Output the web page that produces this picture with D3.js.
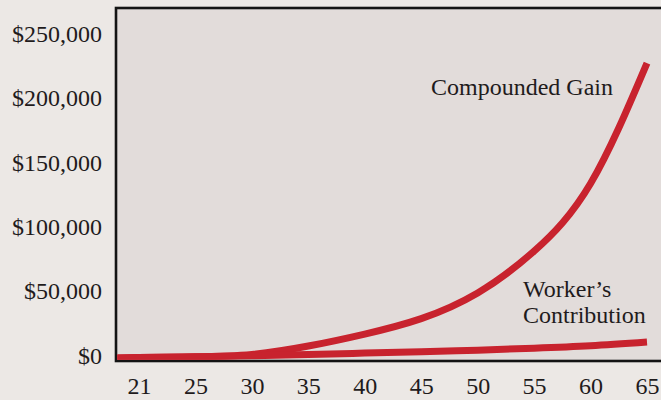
<!DOCTYPE html>
<html>
<head>
<meta charset="utf-8">
<script src="https://cdn.jsdelivr.net/npm/d3@7/dist/d3.min.js"></script>
<style>
  html, body { margin: 0; padding: 0; background: #ece8e5; }
  svg { display: block; }
  text { font-family: "Liberation Serif", "Times New Roman", serif; fill: #1f1b1c; }
</style>
</head>
<body>
<svg id="chart" width="661" height="400"></svg>
<script>
// Ages shown along the bottom axis (evenly spaced labels)
const ageTicks = [21, 25, 30, 35, 40, 45, 50, 55, 60, 65];
// Dollar ticks on the left axis
const valueTicks = [0, 50000, 100000, 150000, 200000, 250000];

// Ages at which the balances are sampled
const ages = [19, 21, 25, 30, 35, 40, 45, 50, 55, 60, 65];
// Growth from compounding over a working life
const compoundedGain = [0, 300, 900, 2800, 9300, 18600, 30600, 50500, 83000, 135500, 229000];
// What the worker paid in
const workerContribution = [0, 300, 900, 1700, 2700, 3800, 4900, 6100, 7600, 9500, 12400];

const plot = { left: 116, top: 8, right: 680, bottom: 361 };

const svg = d3.select("#chart");

// Tick labels sit at even spacing along the axis
const xPoint = d3.scalePoint()
  .domain(ageTicks.map(String))
  .range([139, 647]);

// Map an age onto the axis, piecewise between the labelled ticks
const xAge = d3.scaleLinear()
  .domain(ageTicks)
  .range(ageTicks.map(a => xPoint(String(a))));

const y = d3.scaleLinear()
  .domain([0, 250000])
  .range([358, 36]);

// Plot panel
svg.append("rect")
  .attr("x", plot.left)
  .attr("y", plot.top)
  .attr("width", plot.right - plot.left)
  .attr("height", plot.bottom - plot.top)
  .attr("fill", "#e2dcda")
  .attr("stroke", "#141414")
  .attr("stroke-width", 2.6);

svg.append("clipPath").attr("id", "plotClip")
  .append("rect")
  .attr("x", plot.left + 1.3)
  .attr("y", plot.top + 1.3)
  .attr("width", plot.right - plot.left)
  .attr("height", plot.bottom - plot.top - 2.6);

const line = d3.line()
  .x(d => xAge(d[0]))
  .y(d => y(d[1]))
  .curve(d3.curveNatural);

const lines = svg.append("g").attr("clip-path", "url(#plotClip)");

[compoundedGain, workerContribution].forEach(series => {
  lines.append("path")
    .datum(ages.map((a, i) => [a, series[i]]))
    .attr("d", line)
    .attr("fill", "none")
    .attr("stroke", "#c8232e")
    .attr("stroke-width", 7)
    .attr("stroke-linecap", "butt");
});

// Left axis labels
const yAxis = d3.axisLeft(y)
  .tickValues(valueTicks)
  .tickSize(0)
  .tickPadding(0)
  .tickFormat(d => "$" + d3.format(",")(d));

const gy = svg.append("g")
  .attr("transform", "translate(102,0)")
  .call(yAxis);
gy.select(".domain").remove();
gy.selectAll("text")
  .attr("dy", "0.22em")
  .style("font-size", "24px")
  .style("font-family", "'Liberation Serif', 'Times New Roman', serif")
  .attr("fill", "#1f1b1c");

// Bottom axis labels
const xAxis = d3.axisBottom(xPoint)
  .tickSize(0)
  .tickPadding(0);

const gx = svg.append("g")
  .attr("transform", "translate(0,376)")
  .call(xAxis);
gx.select(".domain").remove();
gx.selectAll("text")
  .attr("dy", "0.75em")
  .style("font-size", "24px")
  .style("font-family", "'Liberation Serif', 'Times New Roman', serif")
  .attr("fill", "#1f1b1c");

// Series labels
svg.append("text")
  .attr("x", 431)
  .attr("y", 95)
  .style("font-size", "24px")
  .text("Compounded Gain");

const wl = svg.append("text")
  .attr("x", 523)
  .attr("y", 297)
  .style("font-size", "24px");
wl.append("tspan").attr("x", 523).text("Worker\u2019s");
wl.append("tspan").attr("x", 523).attr("dy", 26).text("Contribution");
</script>
</body>
</html>
